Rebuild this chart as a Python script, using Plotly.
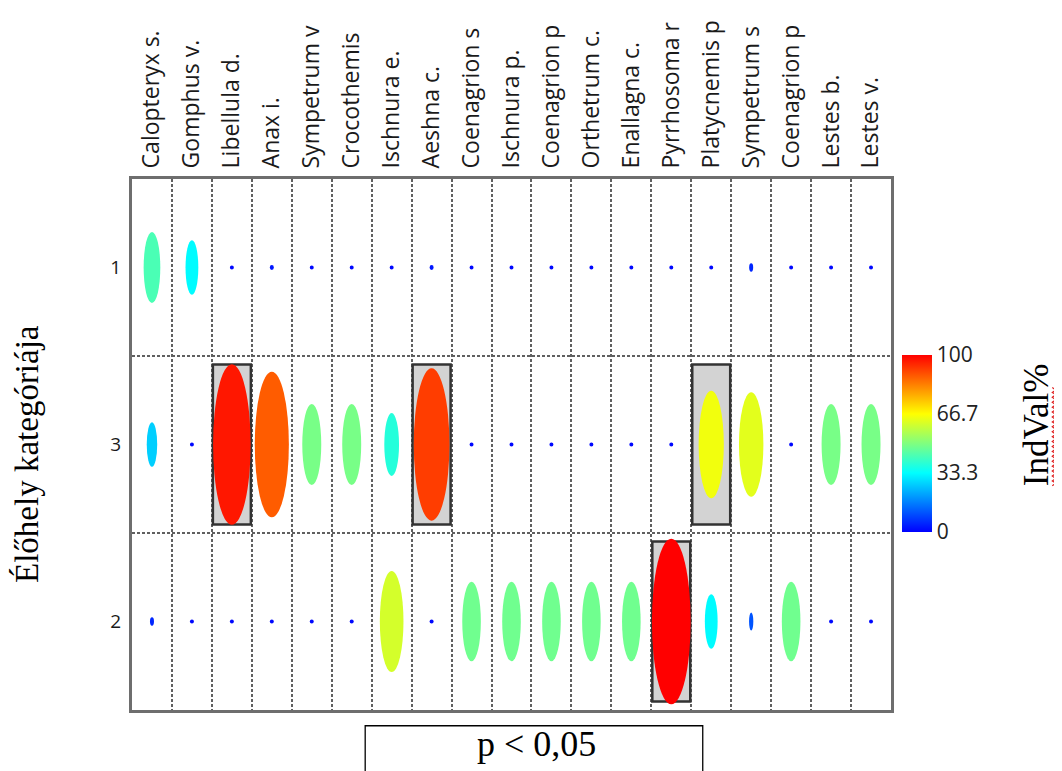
import plotly.graph_objects as go
from plotly.colors import sample_colorscale

# ---------------- data ----------------
species = ["Calopteryx s.", "Gomphus v.", "Libellula d.", "Anax i.", "Sympetrum v",
           "Crocothemis", "Ischnura e.", "Aeshna c.", "Coenagrion s", "Ischnura p.",
           "Coenagrion p", "Orthetrum c.", "Enallagna c.", "Pyrrhosoma r", "Platycnemis p",
           "Sympetrum s", "Coenagrion p", "Lestes b.", "Lestes v."]
rows = ["1", "3", "2"]  # top to bottom

indval_1 = [43, 33, 1, 3, 1, 1, 1, 3, 1, 1, 1, 1, 1, 1, 1, 5, 1, 1, 1]
indval_3 = [27, 1, 97, 88, 49, 49, 38, 92, 1, 1, 1, 1, 1, 1, 65, 63, 1, 49, 49]
indval_2 = [5, 1, 1, 1, 1, 1, 61, 1, 48, 48, 48, 48, 48, 100, 33, 11, 48, 1, 1]
indval = {"1": indval_1, "3": indval_3, "2": indval_2}

significant = [("Libellula d.", "3"), ("Aeshna c.", "3"),
               ("Platycnemis p", "3"), ("Pyrrhosoma r", "2")]

cbar_ticks = [0, 33.3, 66.7, 100]

# ---------------- styling ----------------
colorscale = [[0, "#0000ff"], [1 / 3, "#00ffff"], [2 / 3, "#ffff00"], [1, "#ff0000"]]
W, H = 1062, 771
OFF = 8  # default page body margin
L, R, T, B = 131.5, 170.5, 170, 61
PW, PH = W - L - R, H - T - B


def px2paper(px, py):
    return (px - L) / PW, (H - B - py) / PH


shapes = []
# significance boxes
for sp, rw in significant:
    xi = species.index(sp)
    yi = rows.index(rw)
    shapes.append(dict(type="rect", xref="x", yref="y",
                       x0=xi - 0.475, x1=xi + 0.475, y0=yi - 0.452, y1=yi + 0.452,
                       fillcolor="#d3d3d3", line=dict(color="#333333", width=2.5),
                       layer="above"))

# ellipses
for yi, rw in enumerate(rows):
    vals = indval[rw]
    cols = sample_colorscale(colorscale, [v / 100 for v in vals])
    for xi, (v, c) in enumerate(zip(vals, cols)):
        w = max(v / 100 * 0.97, 0.1)
        h = max(v / 100 * 0.935, 0.022)
        shapes.append(dict(type="circle", xref="x", yref="y",
                           x0=xi - w / 2, x1=xi + w / 2, y0=yi - h / 2, y1=yi + h / 2,
                           fillcolor=c, line=dict(width=0), layer="above"))

# p < 0,05 box
bx0, by0 = px2paper(365, 726)
bx1, by1 = px2paper(703, 790)
shapes.append(dict(type="rect", xref="paper", yref="paper", x0=bx0, x1=bx1, y0=by1, y1=by0,
                   line=dict(color="black", width=1.3), fillcolor="rgba(0,0,0,0)"))

# red spell-check squiggle beside IndVal%
sq = []
py = 382
k = 0
while py <= 483:
    xx = 1053 if k % 2 == 0 else 1056.5
    sq.append(px2paper(xx, py))
    py += 2.5
    k += 1
path = "M " + " L ".join(f"{a:.5f},{b:.5f}" for a, b in sq)
shapes.append(dict(type="path", xref="paper", yref="paper", path=path,
                   line=dict(color="#e02020", width=1.2)))

fig = go.Figure()
fig.add_trace(go.Scatter(
    x=[0], y=[0], mode="markers", hoverinfo="skip", showlegend=False,
    marker=dict(size=0.1, opacity=0, color=[0], cmin=0, cmax=100,
                colorscale=colorscale, showscale=True,
                colorbar=dict(x=px2paper(903, 0)[0], xanchor="left", xpad=0,
                              y=px2paper(0, 438.5)[1], yanchor="middle", ypad=0,
                              len=180 / PH, lenmode="fraction", thickness=30,
                              outlinewidth=0, ticks="",
                              tickvals=cbar_ticks,
                              ticktext=["0", "33.3", "66.7", "100"],
                              tickfont=dict(family="Open Sans", size=21, color="#222")))))

grid_style = dict(showgrid=True, gridcolor="#606060", gridwidth=2, griddash="3px,2px")

fig.update_xaxes(range=[-0.5, len(species) - 0.5], side="top", tickangle=-90,
                 tickmode="array", tickvals=list(range(len(species))), ticktext=species,
                 tickfont=dict(family="Open Sans", size=23, color="#1a1a1a"),
                 showgrid=False, zeroline=False, ticks="", ticklabelstandoff=3,
                 showline=True, mirror=True, linecolor="#6e6e6e", linewidth=3,
                 minor=dict(tickmode="array", tickvals=[i + 0.5 for i in range(len(species) - 1)],
                            ticks="", **grid_style))
fig.update_yaxes(range=[len(rows) - 0.5, -0.5], tickmode="array",
                 tickvals=list(range(len(rows))), ticktext=rows,
                 tickfont=dict(family="Open Sans", size=19, color="#1a1a1a"),
                 showgrid=False, zeroline=False, ticks="", ticklabelstandoff=4,
                 showline=True, mirror=True, linecolor="#6e6e6e", linewidth=3,
                 minor=dict(tickmode="array", tickvals=[i + 0.5 for i in range(len(rows) - 1)],
                            ticks="", **grid_style))

ax, ay = px2paper(27, 450)
ix, iy = px2paper(1038, 420)
px_, py_ = px2paper(537, 745)
fig.update_layout(
    width=W - OFF, height=H - OFF, margin=dict(l=L - OFF, r=R, t=T - OFF, b=B),
    paper_bgcolor="white", plot_bgcolor="white", showlegend=False,
    shapes=shapes,
    annotations=[
        dict(text="Élőhely kategóriája", xref="paper", yref="paper", x=ax, y=ay,
             xanchor="center", yanchor="middle",
             textangle=-90, showarrow=False,
             font=dict(family="Liberation Serif", size=33, color="black")),
        dict(text="IndVal%", xref="paper", yref="paper", x=ix, y=iy,
             xanchor="center", yanchor="middle",
             textangle=-90, showarrow=False,
             font=dict(family="Liberation Serif", size=35, color="black")),
        dict(text="p < 0,05", xref="paper", yref="paper", x=px_, y=py_,
             xanchor="center", yanchor="middle",
             showarrow=False,
             font=dict(family="Liberation Serif", size=36, color="black")),
    ],
)

fig.write_html("out.html")
